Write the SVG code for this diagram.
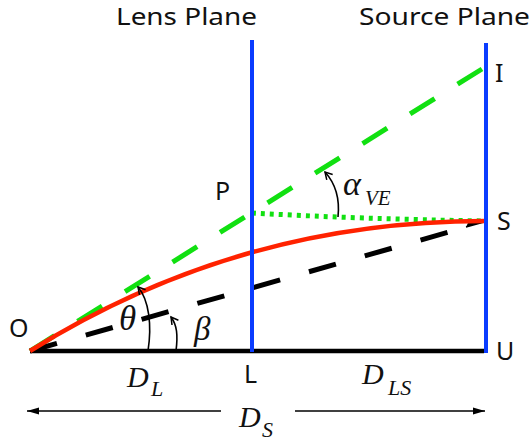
<svg xmlns="http://www.w3.org/2000/svg" width="531" height="443" viewBox="0 0 531 443">
<style>
.lbl{font-family:"Noto Sans","Liberation Sans",sans-serif;font-size:25px;fill:#111}
.ttl{font-family:"Noto Sans","Liberation Sans",sans-serif;font-size:23px;fill:#111}
.m{font-family:"Liberation Serif","Times New Roman",serif;font-style:italic;fill:#111}
.plane{stroke:#0a3cff;stroke-width:4;fill:none}
.thin{stroke:#000;stroke-width:1.6;fill:none}
</style>
<defs>
<marker id="open" markerWidth="10" markerHeight="10" refX="8" refY="5" orient="auto" markerUnits="userSpaceOnUse">
<path d="M1,1 L8,5 L1,9" fill="none" stroke="#000" stroke-width="1.5"/>
</marker>
<marker id="fill" markerWidth="14" markerHeight="10" refX="12" refY="5" orient="auto" markerUnits="userSpaceOnUse">
<path d="M0,1.5 L12,5 L0,8.5 Z" fill="#000"/>
</marker>
</defs>
<g id="connectors">
<line x1="30" y1="351" x2="484" y2="351" stroke="#000" stroke-width="4.5"/>
<line x1="30" y1="351" x2="482" y2="69" stroke="#11e011" stroke-width="5" stroke-dasharray="29 27"/>
<path d="M252,213 Q360,219 485,221" stroke="#11e011" stroke-width="5" fill="none" stroke-dasharray="4 5"/>
<line x1="30" y1="351" x2="470" y2="226" stroke="#000" stroke-width="5" stroke-dasharray="28 30"/>
<path d="M466,227 L484,222 L468,223" fill="#000" stroke="#000" stroke-width="1.5"/>
<path d="M30,351 Q238,221 485,221" stroke="#ff2200" stroke-width="4.5" fill="none"/>
<path d="M148,351 C152,325 149,300 138,287" class="thin" marker-end="url(#open)"/>
<path d="M176,351 C178,335 177,325 171,317" class="thin" marker-end="url(#open)"/>
<path d="M338,217 C340,198 335,183 325,172" class="thin" marker-end="url(#open)"/>
<line x1="221" y1="411" x2="27" y2="411" class="thin" marker-end="url(#fill)"/>
<line x1="295" y1="411" x2="485" y2="411" class="thin" marker-end="url(#fill)"/>
</g>
<g id="lens-plane">
<line x1="252" y1="40" x2="252" y2="352" class="plane"/>
<text x="116" y="25" class="ttl" textLength="141" lengthAdjust="spacingAndGlyphs">Lens Plane</text>
</g>
<g id="source-plane">
<line x1="486" y1="43" x2="486" y2="353" class="plane"/>
<text x="359" y="25" class="ttl" textLength="171" lengthAdjust="spacingAndGlyphs">Source Plane</text>
</g>
<g id="O"><text x="9" y="337" class="lbl">O</text></g>
<g id="P"><text x="215" y="200" class="lbl">P</text></g>
<g id="L"><text x="244" y="383" class="lbl">L</text></g>
<g id="U"><text x="496" y="360" class="lbl">U</text></g>
<g id="S"><text x="497" y="230" class="lbl">S</text></g>
<g id="I"><text x="495" y="82" class="lbl">I</text></g>
<g id="theta"><text x="119" y="330" class="m" font-size="35">θ</text></g>
<g id="beta"><text x="194" y="340" class="m" font-size="33">β</text></g>
<g id="alpha"><text x="343" y="195" class="m" font-size="34">α</text><text x="365" y="205" class="m" font-size="21">VE</text></g>
<g id="DL"><text x="127" y="387" class="m" font-size="30">D</text><text x="151" y="396" class="m" font-size="22">L</text></g>
<g id="DLS"><text x="362" y="384" class="m" font-size="30">D</text><text x="388" y="395" class="m" font-size="22">LS</text></g>
<g id="DS"><text x="239" y="427" class="m" font-size="30">D</text><text x="262" y="437" class="m" font-size="22">S</text></g>
</svg>
